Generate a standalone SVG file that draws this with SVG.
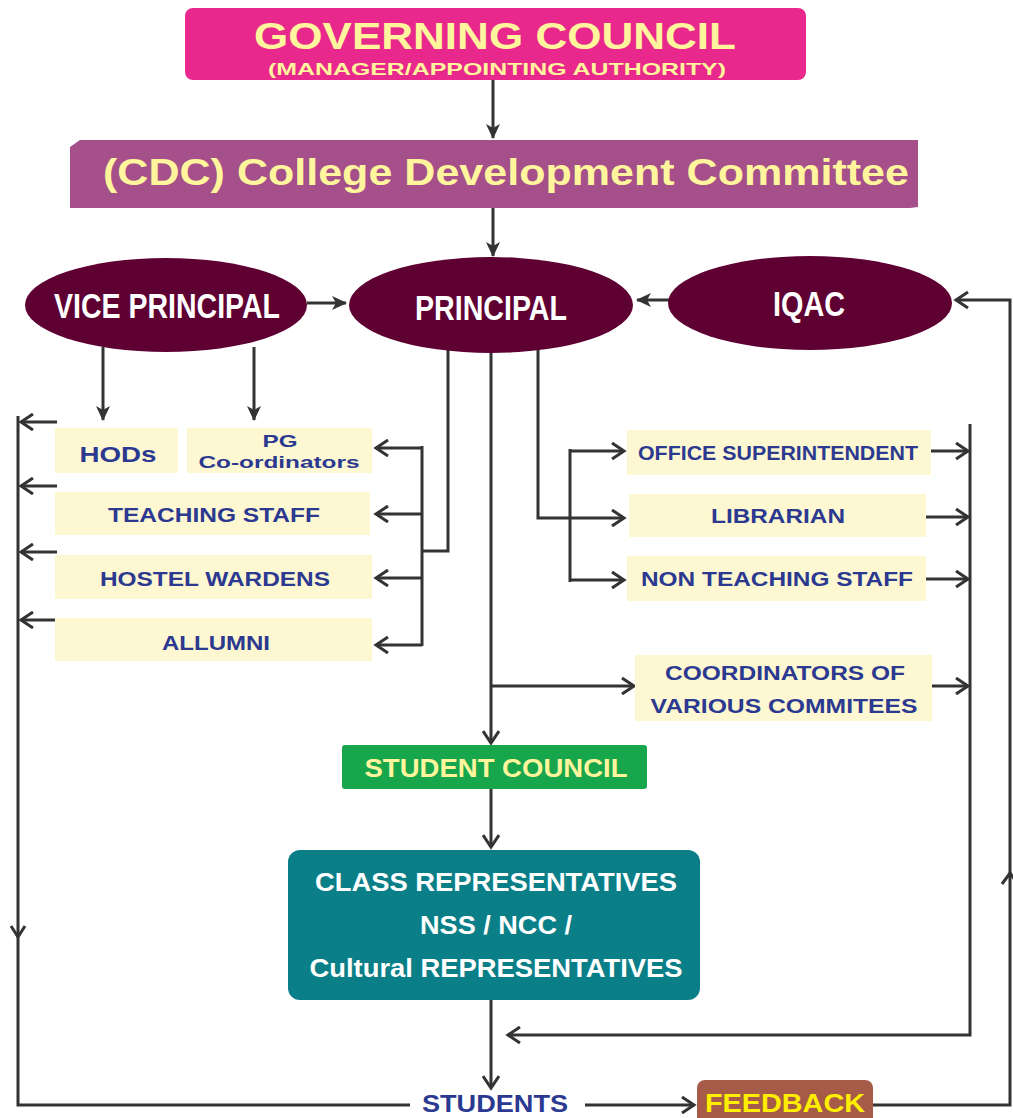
<svg xmlns="http://www.w3.org/2000/svg" width="1013" height="1118" viewBox="0 0 1013 1118">
<style>
.ln{fill:none;stroke:#333;stroke-width:3}
.bx{fill:#fdf7d2}
.bt{font-family:"Liberation Sans",Arial,sans-serif;font-weight:bold;fill:#2b3990;text-anchor:middle}
.wt{font-family:"Liberation Sans",Arial,sans-serif;font-weight:bold;text-anchor:middle}
.el{fill:#5f0032}
</style>
<defs>
<marker id="fa" markerUnits="userSpaceOnUse" markerWidth="16" markerHeight="16" refX="14" refY="8" orient="auto"><path d="M0,1 L15,8 L0,15 L4,8 z" fill="#333"/></marker>
<marker id="oa" markerUnits="userSpaceOnUse" markerWidth="16" markerHeight="18" refX="13" refY="9" orient="auto"><path d="M1,1 L13,9 L1,17" fill="none" stroke="#333" stroke-width="3"/></marker>
</defs>
<rect width="1013" height="1118" fill="#fff"/>
<g id="connectors">
<path class="ln" d="M493,80 V138" marker-end="url(#fa)"/>
<path class="ln" d="M493,208 V256" marker-end="url(#fa)"/>
<path class="ln" d="M307,303 H346" marker-end="url(#fa)"/>
<path class="ln" d="M670,300 H637" marker-end="url(#fa)"/>
<path class="ln" d="M873,1105 H1010 V300 H956" marker-end="url(#oa)"/>
<path class="ln" d="M1002,884 L1010,873 L1018,884"/>
<path class="ln" d="M103,347 V420" marker-end="url(#fa)"/>
<path class="ln" d="M254,347 V420" marker-end="url(#fa)"/>
<path class="ln" d="M448,348 V551 H422"/>
<path class="ln" d="M422,446 V646"/>
<path class="ln" d="M422,448 H376" marker-end="url(#oa)"/>
<path class="ln" d="M422,514 H376" marker-end="url(#oa)"/>
<path class="ln" d="M422,578 H376" marker-end="url(#oa)"/>
<path class="ln" d="M422,645 H376" marker-end="url(#oa)"/>
<path class="ln" d="M57,422 H21" marker-end="url(#oa)"/>
<path class="ln" d="M57,486 H21" marker-end="url(#oa)"/>
<path class="ln" d="M57,552 H21" marker-end="url(#oa)"/>
<path class="ln" d="M57,620 H21" marker-end="url(#oa)"/>
<path class="ln" d="M18,416 V1105 H410"/>
<path class="ln" d="M11,926 L18,937 L25,926"/>
<path class="ln" d="M538,348 V518 H624" marker-end="url(#oa)"/>
<path class="ln" d="M570,449 V582"/>
<path class="ln" d="M570,451 H624" marker-end="url(#oa)"/>
<path class="ln" d="M570,580 H624" marker-end="url(#oa)"/>
<path class="ln" d="M491,350 V743" marker-end="url(#oa)"/>
<path class="ln" d="M491,686 H634" marker-end="url(#oa)"/>
<path class="ln" d="M931,451 H968" marker-end="url(#oa)"/>
<path class="ln" d="M926,517 H968" marker-end="url(#oa)"/>
<path class="ln" d="M926,579 H968" marker-end="url(#oa)"/>
<path class="ln" d="M932,686 H968" marker-end="url(#oa)"/>
<path class="ln" d="M970,424 V1035 H508" marker-end="url(#oa)"/>
<path class="ln" d="M491,789 V847" marker-end="url(#oa)"/>
<path class="ln" d="M491,1000 V1088" marker-end="url(#oa)"/>
<path class="ln" d="M585,1105 H694" marker-end="url(#oa)"/>
</g>
<g id="governing-council">
<rect x="185" y="8" width="621" height="72" rx="8" fill="#e8288c"/>
<text class="wt" x="495" y="49" font-size="37" fill="#fff59d" textLength="482" lengthAdjust="spacingAndGlyphs">GOVERNING COUNCIL</text>
<text class="wt" x="497" y="75" font-size="17" fill="#fff59d" textLength="458" lengthAdjust="spacingAndGlyphs">(MANAGER/APPOINTING AUTHORITY)</text>
</g>
<g id="cdc">
<path d="M80,140 H918 V207 L910,208 H70 V147 Z" fill="#a54f8b"/>
<text class="wt" x="506" y="185" font-size="37" fill="#fff59d" textLength="806" lengthAdjust="spacingAndGlyphs">(CDC) College Development Committee</text>
</g>
<g id="vice-principal">
<ellipse class="el" cx="166" cy="305" rx="141" ry="47"/>
<text class="wt" x="167" y="318" font-size="35" fill="#fff" textLength="226" lengthAdjust="spacingAndGlyphs">VICE PRINCIPAL</text>
</g>
<g id="principal">
<ellipse class="el" cx="491" cy="305" rx="142" ry="48"/>
<text class="wt" x="491" y="320" font-size="35" fill="#fff" textLength="152" lengthAdjust="spacingAndGlyphs">PRINCIPAL</text>
</g>
<g id="iqac">
<ellipse class="el" cx="810" cy="303" rx="142" ry="47"/>
<text class="wt" x="809" y="316" font-size="35" fill="#fff" textLength="72" lengthAdjust="spacingAndGlyphs">IQAC</text>
</g>
<g id="hods">
<rect class="bx" x="55" y="428" width="123" height="45"/>
<text class="bt" x="118" y="462" font-size="22" textLength="77" lengthAdjust="spacingAndGlyphs">HODs</text>
</g>
<g id="pg-coordinators">
<rect class="bx" x="187" y="428" width="185" height="45"/>
<text class="bt" x="280" y="447" font-size="17" textLength="35" lengthAdjust="spacingAndGlyphs">PG</text>
<text class="bt" x="279" y="468" font-size="17" textLength="161" lengthAdjust="spacingAndGlyphs">Co-ordinators</text>
</g>
<g id="teaching-staff">
<rect class="bx" x="55" y="492" width="315" height="43"/>
<text class="bt" x="214" y="522" font-size="21" textLength="212" lengthAdjust="spacingAndGlyphs">TEACHING STAFF</text>
</g>
<g id="hostel-wardens">
<rect class="bx" x="55" y="555" width="317" height="44"/>
<text class="bt" x="215" y="586" font-size="21" textLength="230" lengthAdjust="spacingAndGlyphs">HOSTEL WARDENS</text>
</g>
<g id="allumni">
<rect class="bx" x="55" y="618" width="317" height="43"/>
<text class="bt" x="216" y="650" font-size="21" textLength="108" lengthAdjust="spacingAndGlyphs">ALLUMNI</text>
</g>
<g id="office-superintendent">
<rect class="bx" x="627" y="430" width="304" height="45"/>
<text class="bt" x="778" y="460" font-size="20" textLength="280" lengthAdjust="spacingAndGlyphs">OFFICE SUPERINTENDENT</text>
</g>
<g id="librarian">
<rect class="bx" x="629" y="494" width="297" height="43"/>
<text class="bt" x="778" y="523" font-size="20" textLength="134" lengthAdjust="spacingAndGlyphs">LIBRARIAN</text>
</g>
<g id="non-teaching-staff">
<rect class="bx" x="627" y="556" width="299" height="45"/>
<text class="bt" x="777" y="586" font-size="20" textLength="272" lengthAdjust="spacingAndGlyphs">NON TEACHING STAFF</text>
</g>
<g id="coordinators">
<rect class="bx" x="635" y="655" width="297" height="66"/>
<text class="bt" x="785" y="680" font-size="20" textLength="240" lengthAdjust="spacingAndGlyphs">COORDINATORS OF</text>
<text class="bt" x="784" y="713" font-size="20" textLength="267" lengthAdjust="spacingAndGlyphs">VARIOUS COMMITEES</text>
</g>
<g id="student-council">
<rect x="342" y="745" width="305" height="44" rx="3" fill="#17a64c"/>
<text class="wt" x="496" y="777" font-size="25" fill="#fff59d" textLength="263" lengthAdjust="spacingAndGlyphs">STUDENT COUNCIL</text>
</g>
<g id="class-representatives">
<rect x="288" y="850" width="412" height="150" rx="12" fill="#0b7f88"/>
<text class="wt" x="496" y="891" font-size="25" fill="#fff" textLength="362" lengthAdjust="spacingAndGlyphs">CLASS REPRESENTATIVES</text>
<text class="wt" x="496" y="934" font-size="25" fill="#fff" textLength="152" lengthAdjust="spacingAndGlyphs">NSS / NCC /</text>
<text class="wt" x="496" y="977" font-size="25" fill="#fff" textLength="373" lengthAdjust="spacingAndGlyphs">Cultural REPRESENTATIVES</text>
</g>
<g id="students">
<text class="bt" x="495" y="1112" font-size="24" textLength="146" lengthAdjust="spacingAndGlyphs">STUDENTS</text>
</g>
<g id="feedback">
<rect x="697" y="1080" width="176" height="45" rx="8" fill="#a65a48"/>
<text class="wt" x="785" y="1112" font-size="26" fill="#ffee00" textLength="160" lengthAdjust="spacingAndGlyphs">FEEDBACK</text>
</g>
</svg>
